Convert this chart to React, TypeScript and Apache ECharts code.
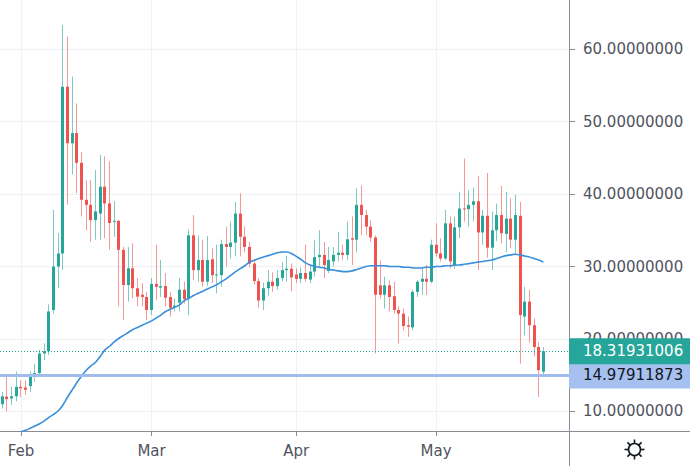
import React, { useEffect, useRef } from "react";
import * as echarts from "echarts";

// ---- data ----
const startDateUTC = Date.UTC(2021, 0, 28);
const dayCount = 122; // 117 daily candles + empty days on the right
const monthNames = ["Jan", "Feb", "Mar", "Apr", "May", "Jun"];

// rows: [open, close, low, high]
const ohlc: number[][] = [
  [11.0, 12.1, 10.4, 12.7], [12.05, 11.7, 10.0, 14.8], [11.8, 12.1, 10.9, 13.4], [12.1, 13.4, 11.4, 15.5],
  [13.4, 13.2, 12.0, 14.3], [13.3, 13.0, 12.3, 14.3], [13.5, 14.8, 12.7, 15.5], [14.8, 15.3, 14.1, 16.6],
  [15.3, 18.0, 14.8, 18.5], [18.0, 18.3, 17.1, 19.4], [18.3, 23.8, 17.8, 24.8], [24.0, 30.0, 23.5, 37.8],
  [30.0, 31.8, 27.0, 34.6], [31.8, 54.8, 29.5, 63.3], [54.8, 47.0, 38.5, 61.7], [47.0, 48.4, 42.7, 56.2],
  [48.4, 44.3, 40.1, 52.5], [44.3, 39.2, 36.9, 45.8], [39.2, 38.5, 35.0, 41.9], [38.5, 36.4, 33.4, 41.9],
  [36.4, 37.6, 33.7, 43.3], [37.3, 41.0, 33.7, 45.4], [41.0, 38.7, 33.9, 45.2], [38.7, 36.0, 32.3, 44.5],
  [36.2, 36.3, 34.1, 39.0], [36.3, 32.3, 24.5, 36.4], [32.3, 27.45, 22.6, 32.7], [27.45, 29.75, 25.15, 32.7],
  [29.75, 27.0, 25.6, 33.2], [27.0, 25.85, 24.5, 28.4], [26.1, 25.8, 24.5, 27.7], [25.8, 24.0, 22.6, 26.5],
  [24.0, 27.6, 23.3, 28.4], [27.6, 27.2, 25.4, 33.0], [27.1, 27.3, 25.8, 30.9], [27.3, 25.7, 24.5, 29.1],
  [25.8, 24.3, 23.1, 26.5], [24.4, 24.6, 23.8, 25.6], [25.0, 26.8, 23.8, 28.4], [26.8, 25.5, 24.9, 27.9],
  [25.5, 34.3, 23.3, 35.1], [34.3, 29.5, 28.1, 37.1], [29.5, 30.9, 27.9, 34.3], [30.9, 27.9, 27.2, 33.7],
  [27.9, 30.9, 27.3, 34.2], [31.0, 28.8, 27.7, 32.5], [28.8, 28.9, 26.3, 33.0], [28.8, 33.1, 27.2, 33.7],
  [33.1, 32.7, 30.0, 35.5], [32.7, 33.3, 31.1, 36.2], [33.3, 37.3, 31.4, 38.9], [37.3, 34.1, 31.4, 40.1],
  [34.1, 32.7, 32.0, 35.5], [32.7, 30.4, 29.9, 33.4], [30.4, 28.0, 27.5, 31.0], [28.0, 25.3, 24.3, 28.4],
  [25.3, 27.0, 24.0, 27.8], [27.0, 27.9, 26.0, 29.5], [27.9, 27.3, 26.5, 29.2], [27.3, 28.4, 26.8, 29.5],
  [28.4, 29.5, 28.0, 30.6], [29.5, 29.7, 27.9, 31.5], [29.7, 28.5, 26.6, 30.4], [28.9, 28.3, 27.7, 29.75],
  [28.3, 29.1, 27.7, 29.9], [29.1, 28.3, 27.9, 33.0], [28.2, 29.3, 27.7, 30.2], [29.3, 31.3, 28.6, 33.7],
  [31.3, 31.6, 30.0, 35.0], [31.6, 30.2, 28.4, 33.4], [29.4, 30.9, 29.1, 32.7], [30.7, 31.6, 30.0, 32.7],
  [31.6, 31.9, 30.7, 34.8], [31.9, 31.6, 30.9, 33.0], [31.6, 33.75, 30.9, 36.2], [33.9, 33.7, 30.2, 36.9],
  [33.7, 38.5, 32.0, 40.8], [38.5, 37.1, 34.3, 41.2], [37.1, 35.5, 34.3, 37.8], [35.5, 34.0, 33.4, 36.4],
  [34.0, 26.1, 18.0, 34.3], [27.4, 26.1, 25.6, 30.8], [26.1, 27.4, 24.2, 28.6], [27.4, 25.8, 23.8, 28.1],
  [25.9, 24.0, 23.5, 27.9], [24.0, 23.5, 19.4, 24.5], [23.5, 21.8, 21.2, 24.2], [21.9, 21.7, 20.3, 23.1],
  [21.6, 26.5, 21.2, 26.8], [26.5, 27.9, 25.8, 28.1], [27.9, 28.3, 26.1, 29.75], [28.3, 27.9, 26.1, 30.2],
  [27.9, 33.0, 27.7, 33.7], [33.0, 31.8, 31.4, 35.95], [31.8, 31.1, 30.7, 33.9], [31.1, 35.95, 30.9, 37.8],
  [35.95, 30.7, 29.75, 36.9], [30.2, 35.4, 29.7, 36.9], [35.4, 38.0, 33.9, 40.3], [38.0, 37.9, 36.2, 44.9],
  [37.9, 38.5, 35.5, 40.5], [38.5, 39.0, 36.2, 40.9], [39.0, 34.7, 29.5, 42.5], [34.7, 37.0, 33.0, 37.8],
  [37.0, 32.6, 31.2, 42.9], [32.6, 35.0, 29.5, 37.6], [35.0, 37.1, 33.5, 38.7], [37.1, 34.6, 33.2, 41.1],
  [34.5, 36.6, 32.0, 40.3], [36.6, 33.7, 32.5, 39.4], [33.7, 37.1, 31.6, 39.9], [37.0, 23.3, 16.6, 38.9],
  [23.1, 25.15, 20.5, 27.2], [25.15, 21.9, 19.5, 26.8], [21.9, 18.9, 17.6, 22.85], [18.9, 15.7, 12.0, 19.6],
  [15.5, 18.31931006, 15.0, 18.9],
];

const maValues: (number | null)[] = [
  null, null, null,
  6.9, 7.2, 7.4, 7.7, 8.0, 8.3, 8.7, 9.2, 9.6, 10.1,
  10.9, 12.0, 13.0, 14.0, 14.9, 15.7, 16.3, 16.8, 17.6, 18.5,
  19.0, 19.6, 20.1, 20.5, 20.9, 21.3, 21.6, 21.9, 22.2, 22.5,
  22.9, 23.3, 23.8, 24.1, 24.4, 24.7, 25.3, 25.6, 26.0, 26.3,
  26.6, 26.9, 27.2, 27.5, 27.9, 28.3, 28.8, 29.3, 29.7, 30.1,
  30.6, 30.85, 31.1, 31.3, 31.5, 31.7, 31.9, 32.0, 32.0, 31.8,
  31.4, 31.0, 30.5, 30.2, 30.0, 29.9, 29.8, 29.6, 29.5, 29.4,
  29.3, 29.3, 29.4, 29.6, 29.8, 30.0, 30.1, 30.1, 30.1, 30.1,
  30.0, 30.0, 30.0, 29.9, 29.9, 29.8, 29.8, 29.8, 29.9, 29.9,
  30.0, 30.0, 30.1, 30.1, 30.2, 30.2, 30.3, 30.4, 30.5, 30.6,
  30.7, 30.8, 30.9, 31.1, 31.3, 31.5, 31.6, 31.7, 31.6, 31.45,
  31.3, 31.1, 30.9, 30.6,
];

const yTicks = [10, 20, 30, 40, 50, 60];
const yMin = 7.31;
const yMax = 66.76;
const lastPrice = 18.31931006;
const levelPrice = 14.97911873;

// ---- helpers ----
function buildDates(): string[] {
  const out: string[] = [];
  for (let i = 0; i < dayCount; i++) {
    out.push(new Date(startDateUTC + i * 86400000).toISOString().slice(0, 10));
  }
  return out;
}

const FONT = "DejaVu Sans";
const UP = "#26a69a";
const DOWN = "#ef5350";
const UP_WICK = "rgba(38,166,154,0.6)";
const DOWN_WICK = "rgba(239,83,80,0.6)";
const AXIS = "#8a8d96";
const GRID = "#eff1f5";
const TEXT = "#50535e";

export default function App() {
  const ref = useRef<HTMLDivElement>(null);

  useEffect(() => {
    document.body.style.margin = "0";
    if (!ref.current) return;
    const chart = echarts.init(ref.current, undefined, { renderer: "svg" });
    const dates = buildDates();
    const isMonthStart = (_i: number, v: string) => v.endsWith("-01");

    const candleData = ohlc.map((r, i) => [i, r[0], r[1], r[2], r[3]]);

    const cx = 634.5;
    const cy = 449.5;
    const rays: any[] = [];
    for (let k = 0; k < 8; k++) {
      const a = (Math.PI / 4) * k;
      rays.push({
        type: "line",
        shape: {
          x1: cx + Math.cos(a) * 6.5,
          y1: cy + Math.sin(a) * 6.5,
          x2: cx + Math.cos(a) * 10,
          y2: cy + Math.sin(a) * 10,
        },
        style: { stroke: "#131722", lineWidth: 1.6 },
      });
    }

    const option: any = {
      animation: false,
      backgroundColor: "#ffffff",
      grid: { left: 0, right: 121, top: 0, bottom: 35, containLabel: false },
      xAxis: {
        type: "category",
        data: dates,
        boundaryGap: true,
        axisLine: { show: true, lineStyle: { color: AXIS } },
        axisTick: {
          show: true,
          alignWithLabel: true,
          interval: isMonthStart,
          length: 5,
          lineStyle: { color: AXIS },
        },
        axisLabel: {
          interval: isMonthStart,
          formatter: (v: string) => monthNames[parseInt(v.slice(5, 7), 10) - 1],
          color: TEXT,
          fontSize: 15,
          fontFamily: FONT,
          margin: 12,
        },
        splitLine: {
          show: true,
          alignWithLabel: true,
          interval: isMonthStart,
          lineStyle: { color: GRID },
        },
      },
      yAxis: {
        type: "value",
        position: "right",
        min: yMin,
        max: yMax,
        axisLine: { show: true, lineStyle: { color: AXIS } },
        axisTick: { show: true, length: 6, customValues: yTicks, lineStyle: { color: AXIS } },
        axisLabel: {
          customValues: yTicks,
          formatter: (v: number) => v.toFixed(8),
          color: TEXT,
          fontSize: 15,
          fontFamily: FONT,
          margin: 14,
        },
        splitLine: { show: true, lineStyle: { color: GRID } },
      },
      series: [
        {
          type: "custom",
          name: "candles",
          data: candleData,
          encode: { x: 0, y: [1, 2, 3, 4] },
          clip: true,
          z: 2,
          renderItem: (_params: any, api: any) => {
            const i = api.value(0);
            const o = api.value(1);
            const c = api.value(2);
            const lo = api.value(3);
            const hi = api.value(4);
            const pO = api.coord([i, o]);
            const pC = api.coord([i, c]);
            const pL = api.coord([i, lo]);
            const pH = api.coord([i, hi]);
            const x = Math.floor(pO[0]) + 0.5;
            const up = c >= o;
            const top = Math.min(pO[1], pC[1]);
            const h = Math.max(1, Math.abs(pO[1] - pC[1]));
            return {
              type: "group",
              children: [
                {
                  type: "line",
                  shape: { x1: x, y1: pH[1], x2: x, y2: pL[1] },
                  style: { stroke: up ? UP_WICK : DOWN_WICK, lineWidth: 1 },
                },
                {
                  type: "rect",
                  shape: { x: x - 1.5, y: top, width: 3, height: h },
                  style: { fill: up ? UP : DOWN },
                },
              ],
            };
          },
        },
        {
          type: "line",
          name: "MA",
          data: maValues,
          showSymbol: false,
          smooth: 0.3,
          connectNulls: false,
          lineStyle: { color: "#3a8fdb", width: 1.6 },
          z: 3,
          markLine: {
            silent: true,
            symbol: ["none", "none"],
            animation: false,
            data: [
              {
                yAxis: levelPrice,
                lineStyle: { color: "#a1bcec", type: "solid", width: 3 },
                label: {
                  show: true,
                  position: "end",
                  distance: 0,
                  formatter: levelPrice.toFixed(8),
                  backgroundColor: "#a6c0f0",
                  color: "#131722",
                  fontSize: 15,
                  fontFamily: FONT,
                  padding: [5, 0, 4, 14],
                  width: 107,
                  lineHeight: 17,
                },
              },
              {
                yAxis: lastPrice,
                lineStyle: { color: UP, type: [1, 2], width: 1 },
                label: {
                  show: true,
                  position: "end",
                  distance: 0,
                  formatter: lastPrice.toFixed(8),
                  backgroundColor: UP,
                  color: "#ffffff",
                  fontSize: 15,
                  fontFamily: FONT,
                  padding: [5, 0, 4, 14],
                  width: 107,
                  lineHeight: 17,
                },
              },
            ],
          },
        },
      ],
      graphic: [
        {
          type: "line",
          shape: { x1: 569.5, y1: 431, x2: 569.5, y2: 466 },
          style: { stroke: AXIS, lineWidth: 1 },
          silent: true,
        },
        {
          type: "line",
          shape: { x1: 569, y1: 431.5, x2: 690, y2: 431.5 },
          style: { stroke: AXIS, lineWidth: 1 },
          silent: true,
        },
        {
          type: "circle",
          shape: { cx, cy, r: 6 },
          style: { fill: "none", stroke: "#131722", lineWidth: 1.6 },
          silent: true,
        },
        ...rays,
      ],
    };

    chart.setOption(option);
    return () => chart.dispose();
  }, []);

  return <div ref={ref} style={{ width: 690, height: 466 }} />;
}
